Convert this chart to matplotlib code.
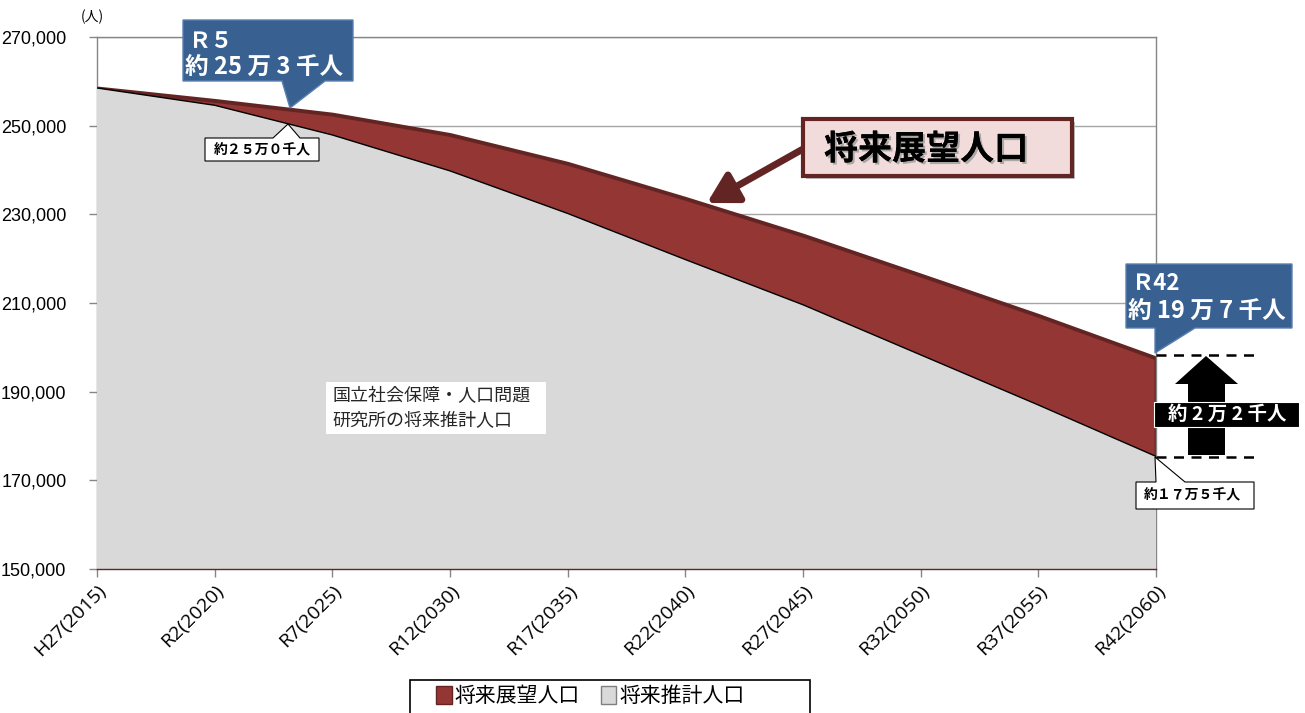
import matplotlib.pyplot as plt
import matplotlib.patches as mpatches
import matplotlib.patheffects as pe
from matplotlib.ticker import FuncFormatter

plt.rcParams['font.family'] = ['Noto Sans CJK JP', 'DejaVu Sans']

# data (persons)
labels = ['H27(2015)', 'R2(2020)', 'R7(2025)', 'R12(2030)', 'R17(2035)',
          'R22(2040)', 'R27(2045)', 'R32(2050)', 'R37(2055)', 'R42(2060)']
outlook = [258500, 255700, 252600, 248000, 241500, 233600, 225300, 216300, 207200, 197600]
estimate = [258500, 254600, 247900, 239800, 230200, 219800, 209600, 198300, 187000, 175400]
series_names = ['将来展望人口', '将来推計人口']

W, H = 1305, 713
def P(x, y):
    return (x / W, 1 - y / H)

red = '#943634'
red_dark = '#632523'
gray = '#d9d9d9'
blue = '#386192'
axis_gray = '#868686'

fig = plt.figure(figsize=(13.05, 7.13), dpi=100)
ax = fig.add_axes([97 / W, 1 - 569 / H, (1156 - 97) / W, (569 - 37) / H])

x = list(range(len(labels)))
ymin = 150000
ax.fill_between(x, ymin, outlook, facecolor=red, edgecolor=red_dark, linewidth=2.8, zorder=2)
ax.fill_between(x, ymin, estimate, facecolor=gray, edgecolor='none', zorder=3)
ax.plot(x, estimate, color='black', linewidth=1, zorder=4)

ax.set_xlim(0, len(labels) - 1)
ax.set_ylim(150000, 270000)
ax.set_yticks(range(150000, 270001, 20000))
ax.yaxis.set_major_formatter(FuncFormatter(lambda v, p: f'{int(v):,}'))
ax.set_xticks(x)
ax.set_xticklabels(labels, rotation=45, ha='right', rotation_mode='anchor',
                   fontsize=14, family='Open Sans')
for t in ax.get_yticklabels():
    t.set_family('Liberation Sans')
    t.set_fontsize(13)
ax.tick_params(axis='both', color=axis_gray, length=6, width=1)
ax.tick_params(axis='x', pad=3)
ax.tick_params(axis='y', pad=16)
ax.grid(axis='y', color='#a6a6a6', linewidth=1, zorder=0)
ax.set_axisbelow(True)
for s in ax.spines.values():
    s.set_color(axis_gray)
    s.set_linewidth(1)
ax.spines['bottom'].set_color(red_dark)
ax.spines['bottom'].set_zorder(5)

fig.text(*P(92, 17), '(人)', fontsize=10, ha='center', va='center')

# R5 callout
poly = [P(183, 20), P(353, 20), P(353, 81), P(325, 81), P(290, 108), P(282, 81), P(183, 81)]
fig.add_artist(mpatches.Polygon(poly, closed=True, transform=fig.transFigure,
                                facecolor=blue, edgecolor='#5a7fb0', linewidth=1, zorder=6))
fig.text(*P(189, 42), 'Ｒ５', color='white', fontsize=16, fontweight='bold', va='center', zorder=7)
fig.text(*P(185, 67), '約 25 万 3 千人', color='white', fontsize=17, fontweight='bold', va='center', zorder=7)

# 25万0千 small callout
poly = [P(205, 138), P(273, 138), P(288, 124), P(300, 138), P(319, 138), P(319, 161), P(205, 161)]
fig.add_artist(mpatches.Polygon(poly, closed=True, transform=fig.transFigure,
                                facecolor='white', edgecolor='black', linewidth=0.8, zorder=6))
fig.text(*P(262, 150), '約２５万０千人', fontsize=10, fontweight='bold', ha='center', va='center', zorder=7)

# 将来展望人口 box and arrow
ax.annotate('', xy=P(707, 203), xytext=P(803, 149), xycoords='figure fraction',
            textcoords='figure fraction',
            arrowprops=dict(arrowstyle='-|>,head_width=0.85,head_length=1.5', lw=5,
                            mutation_scale=12, color=red_dark, shrinkA=0, shrinkB=0), zorder=6)
shadow = mpatches.Rectangle(P(806, 179), (1072 - 803) / W, (176 - 119) / H, transform=fig.transFigure,
                            facecolor='#bfbfbf', edgecolor='none', zorder=5)
fig.add_artist(shadow)
box = mpatches.Rectangle(P(803, 176), (1072 - 803) / W, (176 - 119) / H, transform=fig.transFigure,
                         facecolor='#f2dcdb', edgecolor=red_dark, linewidth=3, zorder=6)
fig.add_artist(box)
fig.text(*P(926, 149), '将来展望人口', fontsize=24.5, fontweight='bold', ha='center', va='center', zorder=7,
         path_effects=[pe.withSimplePatchShadow(offset=(1.5, -1.5), shadow_rgbFace='#9a9a9a', alpha=0.8),
                       pe.Normal()])

# R42 callout
poly = [P(1126, 264), P(1292, 264), P(1292, 328), P(1195, 328), P(1155, 353), P(1155, 328), P(1126, 328)]
fig.add_artist(mpatches.Polygon(poly, closed=True, transform=fig.transFigure,
                                facecolor=blue, edgecolor='#5a7fb0', linewidth=1, zorder=6))
fig.text(*P(1132, 284), 'Ｒ42', color='white', fontsize=16, fontweight='bold', va='center', zorder=7)
fig.text(*P(1128, 311), '約 19 万 7 千人', color='white', fontsize=17, fontweight='bold', va='center', zorder=7)

# dashed guides
for yy, x2 in [(355, 1256), (457, 1259)]:
    fig.add_artist(plt.Line2D([1156 / W, x2 / W], [1 - yy / H, 1 - yy / H], transform=fig.transFigure,
                              color='black', linewidth=1.8, linestyle=(0, (4, 3)), zorder=6))

# up arrow
arrow = [P(1188, 455), P(1188, 384), P(1175, 384), P(1206, 356), P(1238, 384), P(1225, 384), P(1225, 455)]
fig.add_artist(mpatches.Polygon(arrow, closed=True, transform=fig.transFigure,
                                facecolor='black', edgecolor='none', zorder=6))
fig.add_artist(mpatches.Rectangle(P(1154, 427), (1299 - 1154) / W, (427 - 402) / H, transform=fig.transFigure,
                                  facecolor='black', edgecolor='white', linewidth=0.8, zorder=7))
fig.text(*P(1227, 414), '約 2 万 2 千人', color='white', fontsize=14, fontweight='bold',
         ha='center', va='center', zorder=8)

# 17万5千 small callout
poly = [P(1136, 482), P(1156, 482), P(1155, 457), P(1185, 482), P(1254, 482), P(1254, 509), P(1136, 509)]
fig.add_artist(mpatches.Polygon(poly, closed=True, transform=fig.transFigure,
                                facecolor='white', edgecolor='black', linewidth=0.8, zorder=6))
fig.text(*P(1192, 495), '約１７万５千人', fontsize=10, fontweight='bold', ha='center', va='center', zorder=7)

# source note
fig.add_artist(mpatches.Rectangle(P(326, 434), (546 - 326) / W, (434 - 382) / H, transform=fig.transFigure,
                                  facecolor='white', edgecolor='none', zorder=6))
fig.text(*P(332, 408), '国立社会保障・人口問題\n研究所の将来推計人口', fontsize=13, color='#262626',
         va='center', linespacing=1.4, zorder=7)

# legend with a wide frame like the original
fig.add_artist(mpatches.Rectangle(P(410, 725), 400 / W, 45 / H, transform=fig.transFigure,
                                  facecolor='white', edgecolor='black', linewidth=1.2, zorder=6))
handles = [mpatches.Patch(facecolor=red, edgecolor=red_dark),
           mpatches.Patch(facecolor=gray, edgecolor='#7f7f7f')]
leg = fig.legend(handles, series_names, loc='upper left', bbox_to_anchor=P(436, 685), ncol=2,
                 fontsize=15, frameon=False, handlelength=0.75, handleheight=1.0,
                 handletextpad=0.15, columnspacing=1.0, borderpad=0, borderaxespad=0)
leg.set_zorder(7)

fig.savefig('out.png', dpi=100)
